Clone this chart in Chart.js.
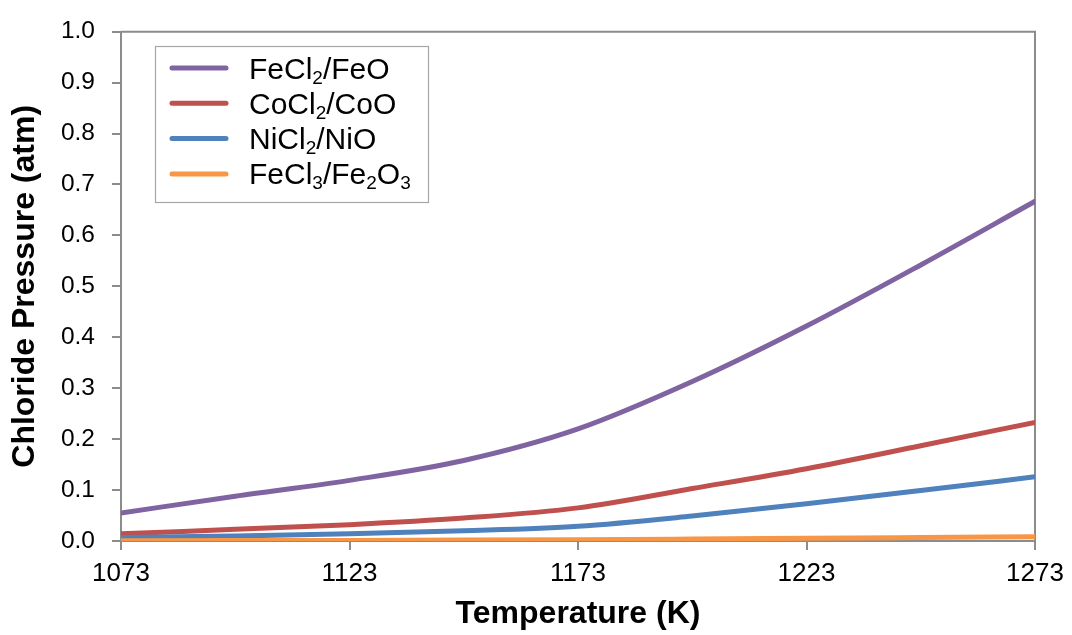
<!DOCTYPE html>
<html>
<head>
<meta charset="utf-8">
<script src="https://cdn.jsdelivr.net/npm/chart.js@4.4.1/dist/chart.umd.min.js"></script>
<style>
  html, body { margin: 0; padding: 0; background: #fff; }
  #wrap { width: 1072px; height: 635px; }
</style>
</head>
<body>
<div id="wrap"><canvas id="chart" width="1072" height="635"></canvas></div>
<script>
// temperatures (K) and equilibrium chloride pressures (atm)
const temperatures = [1073, 1098, 1123, 1148, 1173, 1198, 1223, 1248, 1273];
const feCl2FeO   = [0.055, 0.088, 0.119, 0.158, 0.220, 0.313, 0.422, 0.542, 0.667];
const coCl2CoO   = [0.014, 0.023, 0.032, 0.045, 0.065, 0.103, 0.142, 0.187, 0.233];
const niCl2NiO   = [0.007, 0.010, 0.014, 0.020, 0.029, 0.049, 0.073, 0.099, 0.126];
const feCl3Fe2O3 = [0.0005, 0.0008, 0.0012, 0.0018, 0.0026, 0.0038, 0.0052, 0.0068, 0.0085];

const seriesLabels = ['FeCl₂/FeO', 'CoCl₂/CoO', 'NiCl₂/NiO', 'FeCl₃/Fe₂O₃'];
const seriesColors = ['#8064A2', '#C0504D', '#4F81BD', '#F79646'];
const xTickValues = [1073, 1123, 1173, 1223, 1273];

const FONT = '"Liberation Sans", Arial, sans-serif';
const AXIS_GRAY = '#8c8c8c';

const toPoints = (ys) => ys.map((y, i) => ({ x: temperatures[i], y }));

// top + right edges of the plot box
const framePlugin = {
    id: 'frame',
    beforeDatasetsDraw(chart) {
        const { ctx, chartArea: a } = chart;
        ctx.save();
        ctx.strokeStyle = AXIS_GRAY;
        ctx.lineWidth = 2;
        ctx.beginPath();
        ctx.moveTo(a.left, a.top);
        ctx.lineTo(a.right, a.top);
        ctx.lineTo(a.right, a.bottom + 9);
        ctx.stroke();
        ctx.restore();
    }
};

const subMap = { '₀': '0', '₁': '1', '₂': '2', '₃': '3', '₄': '4', '₅': '5' };

function drawRich(ctx, text, x, y) {
    // split into normal / subscript runs
    const runs = [];
    for (const ch of text) {
        const sub = ch in subMap;
        const c = sub ? subMap[ch] : ch;
        if (runs.length && runs[runs.length - 1].sub === sub) runs[runs.length - 1].t += c;
        else runs.push({ sub, t: c });
    }
    let cx = x;
    runs.forEach(r => {
        ctx.font = (r.sub ? '19px ' : '30px ') + FONT;
        ctx.fillText(r.t, cx, r.sub ? y + 5 : y);
        cx += ctx.measureText(r.t).width;
    });
}

// floating legend inside the plot, like the original
const boxLegend = {
    id: 'boxLegend',
    afterDraw(chart) {
        const { ctx } = chart;
        ctx.save();
        ctx.fillStyle = '#fff';
        ctx.fillRect(155.5, 46.5, 273, 156);
        ctx.strokeStyle = '#a6a6a6';
        ctx.lineWidth = 1.2;
        ctx.strokeRect(155.5, 46.5, 273, 156);
        seriesLabels.forEach((label, i) => {
            const cy = 68 + i * 35.3;
            ctx.strokeStyle = seriesColors[i];
            ctx.lineWidth = 5;
            ctx.lineCap = 'round';
            ctx.beginPath();
            ctx.moveTo(172, cy);
            ctx.lineTo(226, cy);
            ctx.stroke();
            ctx.fillStyle = '#000';
            ctx.textBaseline = 'alphabetic';
            drawRich(ctx, label, 249, cy + 10.5);
        });
        ctx.restore();
    }
};

const seriesData = [feCl2FeO, coCl2CoO, niCl2NiO, feCl3Fe2O3];

const ctx = document.getElementById('chart').getContext('2d');
new Chart(ctx, {
    type: 'line',
    data: {
        datasets: seriesData.map((ys, i) => ({
            label: seriesLabels[i],
            data: toPoints(ys),
            borderColor: seriesColors[i],
            backgroundColor: seriesColors[i],
            borderWidth: 5,
            borderCapStyle: 'round',
            pointRadius: 0,
            cubicInterpolationMode: 'monotone',
            fill: false,
            order: 4 - i
        }))
    },
    options: {
        responsive: false,
        animation: false,
        devicePixelRatio: 1,
        layout: { padding: { left: 0, right: 37, top: 20, bottom: 0 } },
        plugins: {
            legend: { display: false },
            tooltip: { enabled: false }
        },
        scales: {
            x: {
                type: 'linear',
                min: 1073,
                max: 1273,
                afterBuildTicks: (scale) => {
                    scale.ticks = xTickValues.map(v => ({ value: v }));
                },
                afterFit: (scale) => { scale.height = 94; },
                grid: {
                    drawOnChartArea: false,
                    tickLength: 9,
                    color: AXIS_GRAY,
                    lineWidth: 2
                },
                border: { color: AXIS_GRAY, width: 2 },
                ticks: {
                    color: '#000',
                    padding: 8,
                    maxRotation: 0,
                    font: { family: FONT, size: 26 },
                    callback: (v) => String(v)
                },
                title: {
                    display: true,
                    text: 'Temperature (K)',
                    color: '#000',
                    padding: { top: 0, bottom: 2 },
                    font: { family: FONT, size: 32, weight: 'bold' }
                }
            },
            y: {
                min: 0,
                max: 1,
                afterFit: (scale) => { scale.width = 121; },
                grid: {
                    drawOnChartArea: false,
                    tickLength: 9,
                    color: AXIS_GRAY,
                    lineWidth: 2
                },
                border: { color: AXIS_GRAY, width: 2 },
                ticks: {
                    stepSize: 0.1,
                    color: '#000',
                    padding: 17,
                    font: { family: FONT, size: 24.5 },
                    callback: (v) => v.toFixed(1)
                },
                title: {
                    display: true,
                    text: 'Chloride Pressure (atm)',
                    color: '#000',
                    padding: { top: 6, bottom: 0 },
                    font: { family: FONT, size: 32, weight: 'bold' }
                }
            }
        }
    },
    plugins: [framePlugin, boxLegend]
});
</script>
</body>
</html>
